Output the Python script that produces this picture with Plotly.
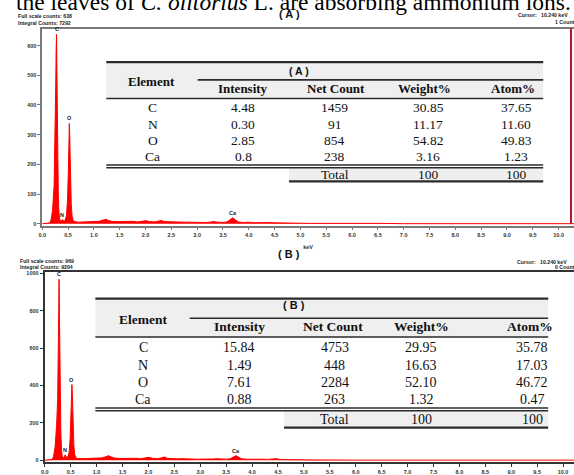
import plotly.graph_objects as go

W, H = 574, 475

# ---------------- EDS spectrum (A) ----------------
energy_a = [0.00, 0.14, 0.17, 0.20, 0.23, 0.25, 0.262, 0.270, 0.277, 0.284,
            0.292, 0.300, 0.312, 0.325, 0.340, 0.360, 0.378, 0.392, 0.405, 0.425,
            0.445, 0.470, 0.490, 0.505, 0.515, 0.525, 0.532, 0.540, 0.550, 0.562,
            0.578, 0.600, 0.630, 0.70, 0.80, 0.90, 1.00, 1.10, 1.18, 1.23,
            1.28, 1.35, 1.45, 1.55, 1.65, 1.75, 1.85, 1.95, 2.01, 2.08,
            2.18, 2.26, 2.31, 2.36, 2.45, 2.55, 2.65, 2.75, 2.85, 2.95,
            3.05, 3.15, 3.25, 3.31, 3.40, 3.50, 3.58, 3.64, 3.69, 3.74,
            3.80, 3.90, 4.00, 4.10, 4.20, 4.30, 4.40, 4.50, 4.70, 4.90,
            5.20, 5.50, 5.90, 6.30, 6.45, 6.60, 7.00, 10.30]
counts_a = [0, 2, 12, 45, 130, 290, 470, 590, 638, 520,
            330, 200, 90, 35, 14, 9, 10, 14, 10, 9,
            12, 28, 80, 170, 250, 338, 300, 235, 140, 65,
            25, 11, 7, 5, 6, 7, 6, 8, 12, 15,
            11, 8, 7, 8, 7, 8, 6, 8, 10, 7,
            6, 9, 11, 7, 6, 5, 6, 5, 5, 4,
            5, 4, 5, 7, 5, 4, 6, 13, 20, 13,
            6, 4, 5, 3, 4, 3, 4, 3, 2, 2,
            1, 1, 1, 1, 3, 1, 0, 0]

# ---------------- EDS spectrum (B) ----------------
energy_b = [0.00, 0.14, 0.17, 0.20, 0.23, 0.25, 0.262, 0.270, 0.277, 0.284,
            0.292, 0.300, 0.312, 0.325, 0.340, 0.360, 0.378, 0.392, 0.405, 0.425,
            0.445, 0.470, 0.490, 0.505, 0.515, 0.525, 0.532, 0.540, 0.550, 0.562,
            0.578, 0.600, 0.630, 0.70, 0.80, 0.90, 1.00, 1.10, 1.18, 1.23,
            1.28, 1.35, 1.45, 1.55, 1.65, 1.75, 1.85, 1.95, 2.01, 2.08,
            2.18, 2.26, 2.31, 2.36, 2.45, 2.55, 2.65, 2.75, 2.85, 2.95,
            3.05, 3.15, 3.25, 3.31, 3.40, 3.50, 3.58, 3.64, 3.69, 3.74,
            3.80, 3.90, 4.00, 4.10, 4.20, 4.30, 4.40, 4.47, 4.55, 4.70,
            4.90, 5.20, 5.50, 6.00, 10.30]
counts_b = [0, 3, 18, 70, 190, 330, 590, 800, 969, 780,
            560, 330, 140, 50, 20, 14, 18, 28, 18, 14,
            18, 40, 110, 220, 290, 405, 360, 290, 170, 80,
            30, 14, 9, 7, 8, 10, 9, 12, 18, 24,
            17, 11, 9, 10, 9, 10, 8, 11, 15, 10,
            8, 13, 17, 10, 8, 7, 8, 6, 7, 5,
            6, 5, 6, 8, 6, 5, 8, 17, 24, 16,
            7, 5, 6, 4, 5, 4, 5, 8, 3, 2,
            1, 1, 1, 0, 0]

# X-ray lines marked on the spectra
line_names = ["C", "N", "O", "Ca"]
line_kev = [0.277, 0.392, 0.525, 3.69]

cursor_kev = 10.240
integral_a, integral_b = 7292, 9204
cursor_counts_a, cursor_counts_b = 1, 0

# ---------------- quantification tables ----------------
table_headers = ["Intensity", "Net Count", "Weight%", "Atom%"]
elements = ["C", "N", "O", "Ca"]
intensity_a = ["4.48", "0.30", "2.85", "0.8"]
net_count_a = ["1459", "91", "854", "238"]
weight_a = ["30.85", "11.17", "54.82", "3.16"]
atom_a = ["37.65", "11.60", "49.83", "1.23"]
intensity_b = ["15.84", "1.49", "7.61", "0.88"]
net_count_b = ["4753", "448", "2284", "263"]
weight_b = ["29.95", "16.63", "52.10", "1.32"]
atom_b = ["35.78", "17.03", "46.72", "0.47"]
totals = ["100", "100"]


def px(x):
    return x / W


def py(y):
    return 1 - y / H


SANS = "Liberation Sans"
SERIF = "Liberation Serif"
RED = "#ff0000"

shapes = []
annotations = []


def hline(x0, x1, y, w=1.5, color="#2b2b2b"):
    shapes.append(dict(type="line", xref="paper", yref="paper",
                       x0=px(x0), x1=px(x1), y0=py(y), y1=py(y),
                       line=dict(color=color, width=w)))


def rect(x0, x1, y0, y1, fill):
    shapes.append(dict(type="rect", xref="paper", yref="paper",
                       x0=px(x0), x1=px(x1), y0=py(y1), y1=py(y0),
                       fillcolor=fill, line=dict(width=0)))


def label(x, y, s, size, family=SERIF, anchor="center", color="#111"):
    annotations.append(dict(xref="paper", yref="paper", x=px(x), y=py(y),
                            text=s, showarrow=False, xanchor=anchor,
                            yanchor="middle",
                            font=dict(family=family, size=size, color=color)))


def draw_table(left, right, top, sub_y, sub_x0, head_y, rows_y, dbl_y,
               tot_x0, bottom, tag, tag_xy, elem_xy, head_x, col_x,
               columns, fs):
    rect(left, right, top, bottom, "white")
    rect(left, right, top, head_y, "#efefef")
    rect(tot_x0, right, dbl_y + 2.5, bottom, "#efefef")
    hline(left, right, top, 2.2)
    hline(sub_x0, right, sub_y, 1.6)
    hline(left, right, head_y, 1.6)
    hline(left, right, dbl_y, 1.4)
    hline(left, right, dbl_y + 2.8, 1.4)
    hline(tot_x0, right, bottom, 2.2)
    label(tag_xy[0], tag_xy[1], "<b>" + tag + "</b>", fs - 3, family=SANS)
    label(elem_xy[0], elem_xy[1], "<b>Element</b>", fs - 0.5)
    for hx, h in zip(head_x, table_headers):
        label(hx, (top + head_y) / 2 + 8.5, "<b>" + h + "</b>", fs - 0.5)
    for r, ry in enumerate(rows_y):
        label(col_x[0], ry, elements[r], fs)
        for cx, col in zip(col_x[1:], columns):
            label(cx, ry, col[r], fs)
    ty = (dbl_y + 2.8 + bottom) / 2
    label(col_x[2], ty, "Total", fs)
    label(col_x[3], ty, totals[0], fs)
    label(col_x[4], ty, totals[1], fs)


def peak_height(energy, counts, e0):
    return max(c for e, c in zip(energy, counts) if abs(e - e0) <= 0.03)


fig = go.Figure()
fig.add_trace(go.Scatter(x=energy_a, y=counts_a, mode="lines",
                         line=dict(color=RED, width=1), fill="tozeroy",
                         fillcolor=RED, xaxis="x", yaxis="y",
                         hoverinfo="skip"))
fig.add_trace(go.Scatter(x=energy_b, y=counts_b, mode="lines",
                         line=dict(color=RED, width=1), fill="tozeroy",
                         fillcolor=RED, xaxis="x2", yaxis="y2",
                         hoverinfo="skip"))

tickfont = dict(family=SANS, size=5.5, color="#333", weight="bold")

# panel A geometry: 0 keV at x=38.5 px, 52 px per keV; 0 counts at y=225 px
ax_a_left, kev_px_a = 38.5, 52.0
ya_bot, ya_zero, cnt_px_a, ya_top = 227, 225, 0.3012, 27
# panel B geometry
ax_b_left, kev_px_b = 41.0, 52.2
yb_bot, yb_zero, cnt_px_b, yb_top = 467, 465, 0.18947, 274

common_x = dict(showgrid=False, zeroline=False, showline=True, mirror=True,
                ticks="outside", ticklen=3, dtick=0.5, tick0=0,
                tickformat=".1f", tickfont=tickfont)
common_y = dict(showgrid=False, zeroline=False, showline=True,
                ticks="outside", ticklen=3, tickfont=tickfont)

fig.update_layout(
    width=W, height=H, margin=dict(l=0, r=0, t=0, b=0),
    paper_bgcolor="white", plot_bgcolor="white", showlegend=False,
    xaxis=dict(common_x, domain=[px(ax_a_left), 1], anchor="y",
               range=[0, (W - ax_a_left) / kev_px_a],
               linecolor="#7a7a7a", linewidth=1.5, tickcolor="#7a7a7a",
               title=dict(text="keV", font=tickfont, standoff=8)),
    yaxis=dict(common_y, domain=[py(ya_bot), py(ya_top)], anchor="x",
               range=[-(ya_bot - ya_zero) / cnt_px_a,
                      (ya_zero - ya_top) / cnt_px_a],
               dtick=100, linecolor="#7a7a7a", linewidth=1.5,
               tickcolor="#7a7a7a"),
    xaxis2=dict(common_x, domain=[px(ax_b_left), 1], anchor="y2",
                range=[0, (W - ax_b_left) / kev_px_b],
                linecolor="#333", linewidth=2, tickcolor="#333"),
    yaxis2=dict(common_y, domain=[py(yb_bot), py(yb_top)], anchor="x2",
                range=[-(yb_bot - yb_zero) / cnt_px_b,
                       (yb_zero - yb_top) / cnt_px_b],
                dtick=200, linecolor="#333", linewidth=2, tickcolor="#333"),
)

# cursor marker in panel A
shapes.append(dict(type="line", xref="x", yref="y domain", x0=cursor_kev,
                   x1=cursor_kev, y0=0.01, y1=1,
                   line=dict(color="#b4152f", width=2)))

# peak labels
for ax, energy, counts in (("", energy_a, counts_a), ("2", energy_b, counts_b)):
    for name, e0 in zip(line_names, line_kev):
        annotations.append(dict(
            xref="x" + ax, yref="y" + ax, x=e0,
            y=peak_height(energy, counts, e0), yshift=5,
            text="<b>" + name + "</b>", showarrow=False,
            font=dict(family=SANS, size=5.5, color="#222")))

# instrument read-outs
small = 5.2
label(12, 14, "<b>Full scale counts: %d</b>" % max(counts_a), small, SANS, "left", "#222")
label(12, 21, "<b>Integral Counts: %d</b>" % integral_a, small, SANS, "left", "#222")
label(516, 13, "<b>Cursor:&nbsp;&nbsp;&nbsp;%.3f keV</b>" % cursor_kev, small, SANS, "left", "#222")
label(553, 20, "<b>%d Counts</b>" % cursor_counts_a, small, SANS, "left", "#222")
label(14, 263, "<b>Full scale counts: %d</b>" % max(counts_b), small, SANS, "left", "#222")
label(14, 269, "<b>Integral Counts: %d</b>" % integral_b, small, SANS, "left", "#222")
label(515, 264, "<b>Cursor:&nbsp;&nbsp;&nbsp;%.3f keV</b>" % cursor_kev, small, SANS, "left", "#222")
label(553, 269, "<b>%d Counts</b>" % cursor_counts_b, small, SANS, "left", "#222")

# running text above the figure and panel titles
annotations.append(dict(xref="paper", yref="paper", x=px(10), y=py(15),
                        xanchor="left", yanchor="bottom", showarrow=False,
                        text="the leaves of <i>C. olitorius</i> L. are absorbing ammonium ions.",
                        font=dict(family=SERIF, size=23.5, color="black")))
label(287, 12, "<b>( A )</b>", 11, SANS)
label(287, 256, "<b>( B )</b>", 11, SANS)

# tables
draw_table(left=103, right=543, top=61, sub_y=79, sub_x0=195, head_y=98,
           rows_y=[107.5, 124, 140.5, 157], dbl_y=165.5, tot_x0=287,
           bottom=182, tag="( A )", tag_xy=(297, 70), elem_xy=(149, 81),
           head_x=[241, 334, 423, 513], col_x=[150, 241, 333, 427, 516],
           columns=[intensity_a, net_count_a, weight_a, atom_a], fs=13.5)
draw_table(left=92, right=548, top=301, sub_y=321, sub_x0=187, head_y=340,
           rows_y=[351, 368.5, 386, 403], dbl_y=412, tot_x0=282,
           bottom=432, tag="( B )", tag_xy=(292, 308), elem_xy=(140, 322),
           head_x=[237, 331, 420, 530], col_x=[140, 237, 333, 420, 532],
           columns=[intensity_b, net_count_b, weight_b, atom_b], fs=14)

fig.update_layout(shapes=shapes, annotations=annotations)
fig.write_html("out.html")
